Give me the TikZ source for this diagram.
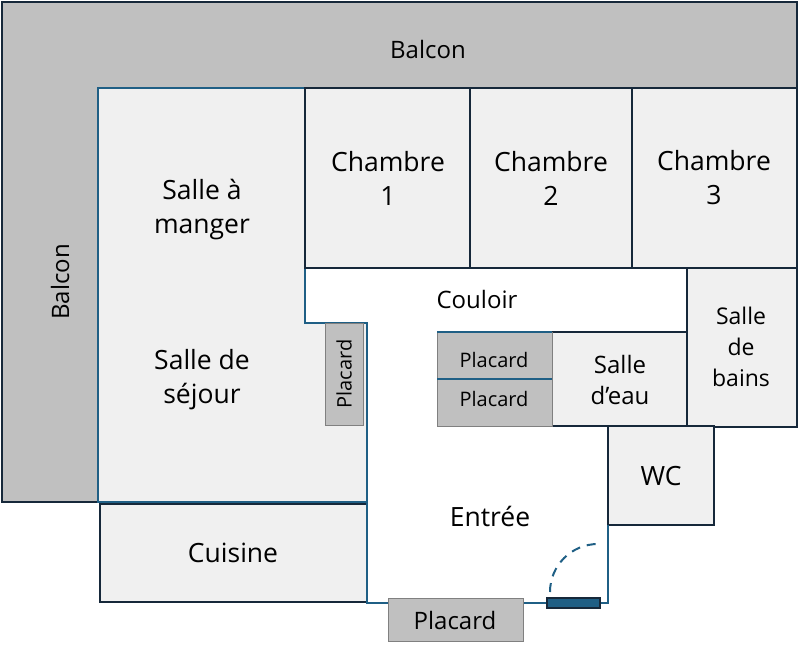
\documentclass[tikz,border=0pt]{standalone}
\usepackage{fontspec}
\setmainfont{Open Sans}
\usepackage{tikz}
\usetikzlibrary{calc}
\definecolor{wallblue}{HTML}{1F5F85}
\definecolor{walldark}{HTML}{16283A}
\definecolor{roomfill}{HTML}{F0F0F0}
\definecolor{balcfill}{HTML}{C0C0C0}

\begin{document}
\begin{tikzpicture}[x=1pt,y=-1pt]
            \tikzstyle{room} = [draw=walldark, line width=2pt, fill=roomfill]
            \tikzstyle{cupboard} = [draw=gray, line width=1pt, fill=balcfill]
            \tikzstyle{label} = [font=\fontsize{26.5}{34}\selectfont, align=center]
            \tikzstyle{small} = [font=\fontsize{24}{31}\selectfont, align=center]
            \tikzstyle{tiny} = [font=\fontsize{20}{24}\selectfont, align=center]
            \useasboundingbox (0,0) rectangle (800,650);

            % balcon
            \draw [walldark, line width=2pt, fill=balcfill] (2,2) -- (797,2) -- (797,88) -- (98,88) -- (98,502) -- (2,502) -- cycle;
            \node (balcon1) [small] at (428,50) {Balcon};
            \node (balcon2) [small, rotate=90] at (60,282) {Balcon};

            % sejour
            \draw [wallblue, line width=2pt, fill=roomfill] (98,502) -- (98,88) -- (305,88) -- (305,323) -- (367,323) -- (367,502) -- cycle;
            \node (manger) [label] at (202,210) {Salle à\\manger};
            \node (sejour) [label] at (202,380) {Salle de\\séjour};
            \draw [room] (100,504) rectangle (367,602);
            \node (cuisine) [label] at (233,553) {Cuisine};

            % chambres
            \draw [room] (305,88) rectangle (470,268);
            \draw [room] (470,88) rectangle (632,268);
            \draw [room] (632,88) rectangle (797,268);
            \node (ch1) [label] at (388,178) {Chambre\\1};
            \node (ch2) [label] at (551,178) {Chambre\\2};
            \node (ch3) [label] at (714,178) {Chambre\\3};

            % couloir et pieces d'eau
            \node (couloir) [small] at (477,299) {Couloir};
            \draw [room] (687,268) rectangle (797,427);
            \node (bains) [small, font=\fontsize{23}{31}\selectfont] at (741,347) {Salle\\de\\bains};
            \draw [room] (552,332) rectangle (687,426);
            \node (eau) [small] at (620,380) {Salle\\d’eau};
            \draw [cupboard] (437,332) rectangle (552,426);
            \draw [wallblue, line width=2pt] (437,332) -- (552,332);
            \draw [wallblue, line width=2pt] (437,379) -- (552,379);
            \node (plc1) [tiny] at (494,360) {Placard};
            \node (plc2) [tiny] at (494,399) {Placard};
            \draw [room] (608,426) rectangle (714,525);
            \node (wc) [label] at (661,476) {WC};

            % entree
            \draw [cupboard] (325,323) rectangle (363,425);
            \node (plc3) [tiny, rotate=90] at (344,374) {Placard};
            \draw [wallblue, line width=2pt] (367,502) -- (367,603) -- (608,603) -- (608,525);
            \node (entree) [label] at (490,516) {Entrée};
            \draw [cupboard] (388,598) rectangle (523,641);
            \node (plc4) [small] at (455,620) {Placard};
            \draw [walldark, line width=1.5pt, fill=wallblue] (547,598) rectangle (600,608);
            \draw [wallblue, line width=2pt, dash pattern=on 9pt off 7pt] (550,592) arc (180:270:48);
        \end{tikzpicture}
\end{document}
